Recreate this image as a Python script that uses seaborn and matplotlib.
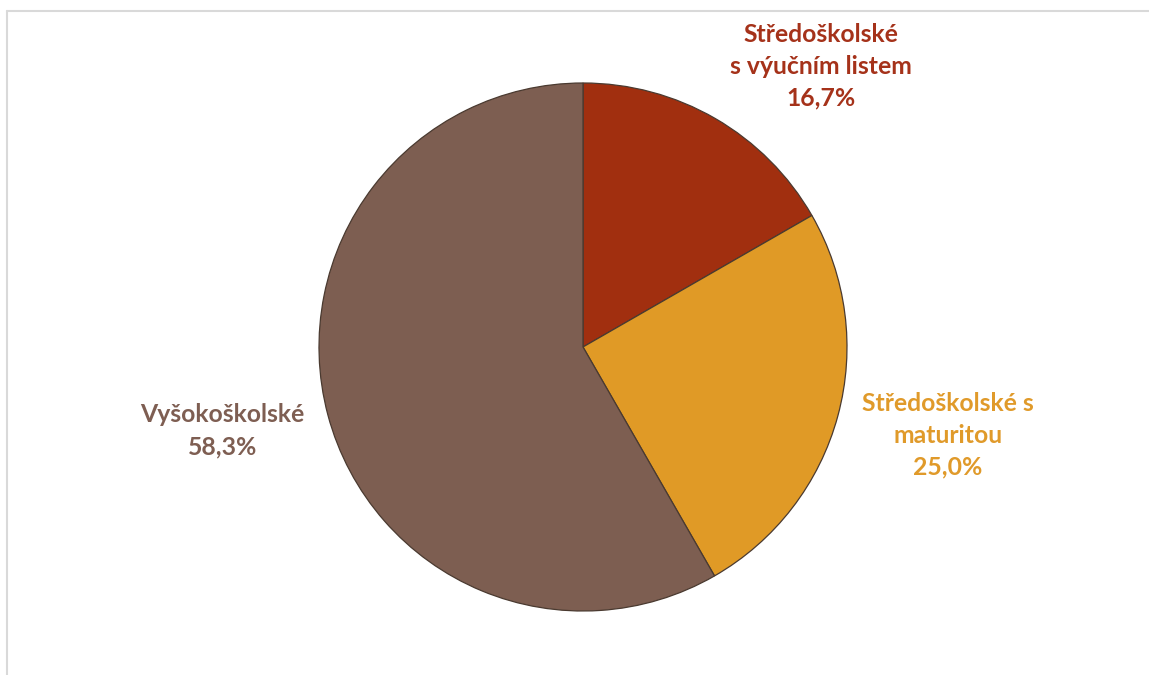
import matplotlib
matplotlib.use("Agg")
import matplotlib.pyplot as plt
from matplotlib.lines import Line2D
import seaborn as sns

# Education level shares
categories = ["Středoškolské\ns výučním listem", "Středoškolské s\nmaturitou", "Vyšokoškolské"]
shares = [16.7, 25.0, 58.3]
colors = ["#A12F0F", "#E09A26", "#7D5E51"]
label_colors = ["#A5321A", "#E09A2A", "#7E5E52"]
label_pos = [(0.902, 1.064), (1.381, -0.335), (-1.366, -0.317)]

sns.set_theme(style="white")
plt.rcParams["font.family"] = ["Lato", "DejaVu Sans"]

W, H = 1149, 675
fig = plt.figure(figsize=(W / 100, H / 100), dpi=100)
fig.patch.set_facecolor("white")

cx, cy, r = 583, 347, 264
ax = fig.add_axes([(cx - r) / W, (H - cy - r) / H, 2 * r / W, 2 * r / H])
wedges, _ = ax.pie(
    shares,
    colors=colors,
    startangle=90,
    counterclock=False,
    radius=1.0,
    wedgeprops=dict(edgecolor="#4a3a30", linewidth=0.9),
)
ax.set_xlim(-1, 1)
ax.set_ylim(-1, 1)
ax.set_aspect("equal")
ax.axis("off")

for cat, val, (x, y), c in zip(categories, shares, label_pos, label_colors):
    txt = f"{cat}\n{val:.1f}%".replace(".", ",")
    ax.text(x, y, txt, ha="center", va="center", color=c, fontsize=17.8,
            fontweight="bold", linespacing=1.46, clip_on=False)

# Light frame along the top and left edges
fig.add_artist(Line2D([6.5 / W, 1.0], [1 - 10.5 / H, 1 - 10.5 / H],
                      transform=fig.transFigure, color="#d9d9d9", lw=1.5))
fig.add_artist(Line2D([6.5 / W, 6.5 / W], [0, 1 - 10.5 / H],
                      transform=fig.transFigure, color="#d9d9d9", lw=1.5))

fig.savefig("out.png", dpi=100, facecolor="white")
